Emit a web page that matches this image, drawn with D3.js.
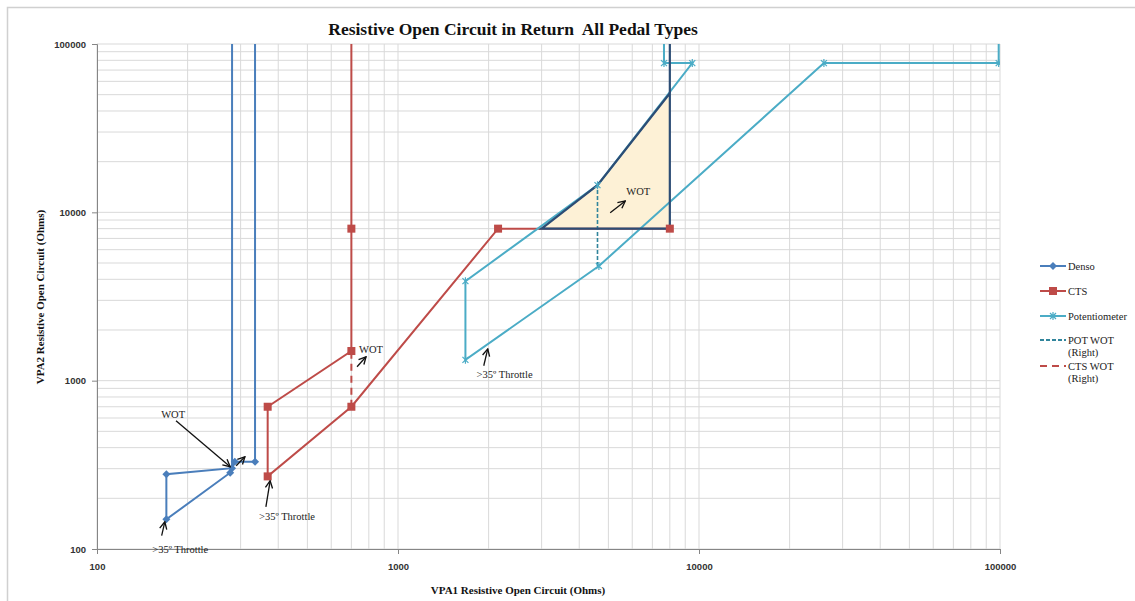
<!DOCTYPE html>
<html>
<head>
<meta charset="utf-8">
<script src="https://cdn.jsdelivr.net/npm/d3@7"></script>
<style>
    body { margin: 0; background: #fff; }
    svg { display: block; }
    .tick-label { font-family: "Liberation Sans", sans-serif; font-weight: bold; font-size: 9.5px; fill: #333; }
    .serif { font-family: "Liberation Serif", "Times New Roman", serif; white-space: pre; }
</style>
</head>
<body>
<svg width="1135" height="601"></svg>
<script>
// Chart data (Ohms, log/log).
const axisTicks = [100, 1000, 10000, 100000];

const denso = [[281, 200000], [281, 302], [170, 278], [170, 150], [277, 284], [287, 330], [335, 330], [335, 200000]];
const cts = [[700, 200000], [700, 8000], [700, 1500], [369, 700], [369, 270], [700, 700], [2150, 8000], [8000, 8000]];
const pot = [[99000, 200000], [99000, 77000], [26000, 77000], [4650, 4800], [1675, 1330], [1675, 3900], [4600, 14500], [9500, 77000], [7650, 77000], [7650, 200000]];
const potWot = [[4600, 4800], [4600, 14500]];
const ctsWot = [[700, 700], [700, 1500]];

// Shaded WOT area and its dark outline
const wotArea = [[3000, 8000], [4600, 14500], [8000, 51000], [8000, 8000]];
const wotEdge = [[8000, 51000], [8000, 200000]];

// Text annotations and arrows (data coordinates)
const labels = [
    { text: "WOT", x: 179, y: 627 },
    { text: ">35º Throttle", x: 189, y: 99 },
    { text: ">35º Throttle", x: 428, y: 156 },
    { text: "WOT", x: 813, y: 1545 },
    { text: ">35º Throttle", x: 2260, y: 1084 },
    { text: "WOT", x: 6280, y: 13420 }
];
const arrows = [
    [[183, 578], [277, 308]],
    [[290, 312], [310, 353]],
    [[164, 120], [168, 145]],
    [[364, 178], [376, 254]],
    [[731, 1209], [783, 1387]],
    [[1927, 1226], [1987, 1545]],
    [[5070, 9930], [5690, 11690]]
];

const legendItems = [
    { name: ["Denso"], color: "#4A7EBB", dash: null, mark: "diamond" },
    { name: ["CTS"], color: "#BE4B48", dash: null, mark: "square" },
    { name: ["Potentiometer"], color: "#4BACC6", dash: null, mark: "star" },
    { name: ["POT WOT", "(Right)"], color: "#31859C", dash: "4,2", mark: null },
    { name: ["CTS WOT", "(Right)"], color: "#BE4B48", dash: "7,5", mark: null }
];

const svg = d3.select("svg");
const plotLeft = 97, plotRight = 1000, plotTop = 44, plotBottom = 549;

const x = d3.scaleLog().domain([100, 100000]).range([plotLeft, plotRight]);
const y = d3.scaleLog().domain([100, 100000]).range([plotBottom, plotTop]);

// outer chart frame
svg.append("rect")
    .attr("x", 7.5).attr("y", 7.5)
    .attr("width", 1140).attr("height", 620)
    .attr("fill", "none").attr("stroke", "#d0d0d0").attr("stroke-width", 1.5);

const defs = svg.append("defs");
defs.append("clipPath").attr("id", "plot")
    .append("rect").attr("x", plotLeft).attr("y", plotTop)
    .attr("width", plotRight - plotLeft).attr("height", plotBottom - plotTop);

// grid lines (major + minor)
const grid = svg.append("g");
x.ticks().forEach(function (t) {
    grid.append("line")
        .attr("x1", x(t)).attr("x2", x(t)).attr("y1", plotTop).attr("y2", plotBottom)
        .attr("stroke", "#d9d9d9").attr("stroke-width", 1);
});
y.ticks().forEach(function (t) {
    grid.append("line")
        .attr("y1", y(t)).attr("y2", y(t)).attr("x1", plotLeft).attr("x2", plotRight)
        .attr("stroke", "#d9d9d9").attr("stroke-width", 1);
});

// axes
const xAxis = svg.append("g").attr("transform", "translate(0," + plotBottom + ")")
    .call(d3.axisBottom(x).tickValues(axisTicks).tickFormat(d3.format("d")).tickSize(5).tickPadding(9));
const yAxis = svg.append("g").attr("transform", "translate(" + plotLeft + ",0)")
    .call(d3.axisLeft(y).tickValues(axisTicks).tickFormat(d3.format("d")).tickSize(5).tickPadding(6));
[xAxis, yAxis].forEach(function (a) {
    a.attr("font-family", null).attr("font-size", null);
    a.select(".domain").attr("stroke", "#868686");
    a.selectAll(".tick line").attr("stroke", "#868686");
    a.selectAll(".tick text").attr("class", "tick-label");
});

// plot content
const plot = svg.append("g").attr("clip-path", "url(#plot)");
const line = d3.line().x(d => x(d[0])).y(d => y(d[1]));

plot.append("path")
    .datum(wotArea)
    .attr("d", d => line(d) + "Z")
    .attr("fill", "#FDF1D6").attr("stroke", "none");

plot.append("path").datum(denso).attr("d", line)
    .attr("fill", "none").attr("stroke", "#4A7EBB").attr("stroke-width", 2);
plot.append("path").datum(cts).attr("d", line)
    .attr("fill", "none").attr("stroke", "#BE4B48").attr("stroke-width", 2);
plot.append("path").datum(pot).attr("d", line)
    .attr("fill", "none").attr("stroke", "#4BACC6").attr("stroke-width", 2);

plot.append("path").datum(potWot).attr("d", line)
    .attr("fill", "none").attr("stroke", "#31859C").attr("stroke-width", 1.6).attr("stroke-dasharray", "4,2");
plot.append("path").datum(ctsWot).attr("d", line)
    .attr("fill", "none").attr("stroke", "#BE4B48").attr("stroke-width", 2).attr("stroke-dasharray", "7,5");

// navy outline of the WOT region
plot.append("path").datum(wotArea).attr("d", d => line(d) + "Z")
    .attr("fill", "none").attr("stroke", "#2C4D75").attr("stroke-width", 2.2);
plot.append("path").datum(wotEdge).attr("d", line)
    .attr("fill", "none").attr("stroke", "#2C4D75").attr("stroke-width", 2.2);

// markers
function drawMarker(g, kind, px, py, color) {
    if (kind === "diamond") {
        g.append("path")
            .attr("d", "M" + px + "," + (py - 4) + "L" + (px + 4) + "," + py + "L" + px + "," + (py + 4) + "L" + (px - 4) + "," + py + "Z")
            .attr("fill", color);
    } else if (kind === "square") {
        g.append("rect").attr("x", px - 4).attr("y", py - 4).attr("width", 8).attr("height", 8).attr("fill", color);
    } else if (kind === "star") {
        g.append("path")
            .attr("d", "M" + (px - 3) + "," + (py - 3) + "L" + (px + 3) + "," + (py + 3) + "M" + (px - 3) + "," + (py + 3) + "L" + (px + 3) + "," + (py - 3) + "M" + px + "," + (py - 4) + "L" + px + "," + (py + 4))
            .attr("stroke", color).attr("stroke-width", 1.2).attr("fill", "none");
    }
}
denso.forEach(d => drawMarker(plot, "diamond", x(d[0]), y(d[1]), "#4A7EBB"));
cts.forEach(d => drawMarker(plot, "square", x(d[0]), y(d[1]), "#BE4B48"));
pot.forEach(d => drawMarker(plot, "star", x(d[0]), y(d[1]), "#4BACC6"));

// arrows
defs.append("marker")
    .attr("id", "arrow").attr("viewBox", "0 0 10 10")
    .attr("refX", 9).attr("refY", 5)
    .attr("markerWidth", 9).attr("markerHeight", 9)
    .attr("markerUnits", "userSpaceOnUse")
    .attr("orient", "auto")
    .append("path").attr("d", "M1,1L9,5L1,9").attr("fill", "none").attr("stroke", "#111").attr("stroke-width", 1.5);

arrows.forEach(function (a) {
    svg.append("line")
        .attr("x1", x(a[0][0])).attr("y1", y(a[0][1]))
        .attr("x2", x(a[1][0])).attr("y2", y(a[1][1]))
        .attr("stroke", "#111").attr("stroke-width", 1.3)
        .attr("marker-end", "url(#arrow)");
});

labels.forEach(function (l) {
    svg.append("text").attr("class", "serif")
        .attr("x", x(l.x)).attr("y", y(l.y)).attr("dy", "0.35em")
        .attr("text-anchor", "middle")
        .attr("font-size", 10.5).attr("fill", "#222")
        .text(l.text);
});

// title and axis titles
svg.append("text").attr("class", "serif")
    .attr("x", 513).attr("y", 35).attr("text-anchor", "middle")
    .attr("font-size", 17.5).attr("font-weight", "bold").attr("fill", "#111")
    .text("Resistive Open Circuit in Return  All Pedal Types");

svg.append("text").attr("class", "serif")
    .attr("x", 518).attr("y", 594).attr("text-anchor", "middle")
    .attr("font-size", 11).attr("font-weight", "bold").attr("fill", "#111")
    .text("VPA1 Resistive Open Circuit (Ohms)");

svg.append("text").attr("class", "serif")
    .attr("transform", "translate(44,297) rotate(-90)").attr("text-anchor", "middle")
    .attr("font-size", 11).attr("font-weight", "bold").attr("fill", "#111")
    .text("VPA2 Resistive Open Circuit (Ohms)");

// legend
const legendY = [266, 291, 316, 340, 366];
legendItems.forEach(function (item, i) {
    const ly = legendY[i];
    svg.append("line")
        .attr("x1", 1040).attr("x2", 1066).attr("y1", ly).attr("y2", ly)
        .attr("stroke", item.color).attr("stroke-width", 2)
        .attr("stroke-dasharray", item.dash);
    if (item.mark) drawMarker(svg, item.mark, 1053, ly, item.color);
    item.name.forEach(function (s, j) {
        svg.append("text").attr("class", "serif")
            .attr("x", 1068).attr("y", ly + 3.5 + j * 12.5)
            .attr("font-size", 10.5).attr("fill", "#222")
            .text(s);
    });
});
</script>
</body>
</html>
